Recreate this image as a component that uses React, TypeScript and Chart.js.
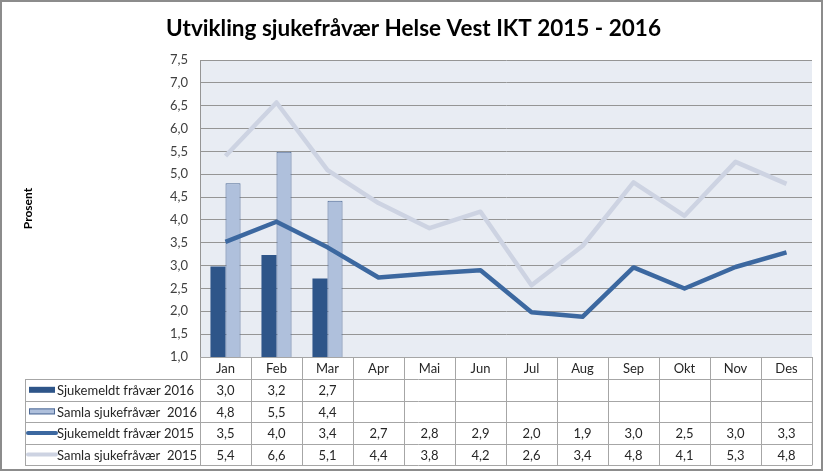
import React, { useEffect, useRef } from "react";
import { Chart, registerables } from "chart.js";

Chart.register(...registerables);

const TITLE = "Utvikling sjukefråvær Helse Vest IKT 2015 - 2016";
const Y_TITLE = "Prosent";
const months = ["Jan", "Feb", "Mar", "Apr", "Mai", "Jun", "Jul", "Aug", "Sep", "Okt", "Nov", "Des"];
const seriesNames = [
  "Sjukemeldt fråvær 2016",
  "Samla sjukefråvær  2016",
  "Sjukemeldt fråvær 2015",
  "Samla sjukefråvær  2015",
];
const sjukemeldt2016: (number | null)[] = [2.98, 3.23, 2.72, null, null, null, null, null, null, null, null, null];
const samla2016: (number | null)[] = [4.8, 5.49, 4.42, null, null, null, null, null, null, null, null, null];
const sjukemeldt2015: number[] = [3.52, 3.96, 3.4, 2.74, 2.83, 2.9, 1.98, 1.88, 2.96, 2.5, 2.97, 3.29];
const samla2015: number[] = [5.4, 6.57, 5.09, 4.37, 3.82, 4.18, 2.57, 3.43, 4.82, 4.09, 5.27, 4.79];
const yMin = 1.0;
const yMax = 7.5;
const yStep = 0.5;

const FONT = "Lato, 'Open Sans', sans-serif";
const COLORS = {
  barDark: "#2E5589",
  barLight: "#AFC0DC",
  barLightBorder: "#4E6A96",
  lineDark: "#3C68A0",
  lineLight: "#CDD3E2",
  plotBg: "#E8ECF3",
  grid: "#959595",
  table: "#A6A6A6",
  text: "#262626",
};

const fmt = (v: number | null) => (v == null ? "" : v.toFixed(1).replace(".", ","));

const tablePlugin = {
  id: "tablePlugin",
  beforeDraw(chart: any) {
    const { ctx, chartArea, width, height } = chart;
    ctx.save();
    ctx.fillStyle = "#ffffff";
    ctx.fillRect(0, 0, width, height);
    ctx.fillStyle = COLORS.plotBg;
    ctx.fillRect(chartArea.left, chartArea.top, chartArea.right - chartArea.left, chartArea.bottom - chartArea.top);
    ctx.restore();
  },
  afterDraw(chart: any) {
    const { ctx, chartArea } = chart;
    const xs = chart.scales.x;
    ctx.save();

    // title
    ctx.fillStyle = "#000";
    ctx.font = `bold 22.5px ${FONT}`;
    ctx.textAlign = "center";
    ctx.textBaseline = "alphabetic";
    ctx.fillText(TITLE, 413.5, 36);

    // y title
    ctx.save();
    ctx.translate(28, (chartArea.top + chartArea.bottom) / 2);
    ctx.rotate(-Math.PI / 2);
    ctx.font = `bold 12px ${FONT}`;
    ctx.textBaseline = "middle";
    ctx.fillText(Y_TITLE, 0, 0);
    ctx.restore();

    // table
    const colW = xs.getPixelForValue(1) - xs.getPixelForValue(0);
    const left = chartArea.left;
    const right = xs.getPixelForValue(months.length - 1) + colW / 2;
    const top = chartArea.bottom;
    const monthRowBottom = top + 22;
    const rowH = 21.6;
    const legendLeft = 25;
    const tableBottom = monthRowBottom + rowH * 4;

    ctx.strokeStyle = COLORS.table;
    ctx.lineWidth = 1;
    ctx.beginPath();
    ctx.moveTo(left, top + 0.5);
    ctx.lineTo(right, top + 0.5);
    for (let r = 0; r <= 4; r++) {
      const y = Math.round(monthRowBottom + r * rowH) + 0.5;
      ctx.moveTo(legendLeft, y);
      ctx.lineTo(right, y);
    }
    ctx.moveTo(legendLeft + 0.5, monthRowBottom);
    ctx.lineTo(legendLeft + 0.5, tableBottom);
    for (let i = 0; i <= months.length; i++) {
      const x = Math.round(xs.getPixelForValue(0) - colW / 2 + i * colW) + 0.5;
      ctx.moveTo(x, top);
      ctx.lineTo(x, tableBottom);
    }
    ctx.stroke();

    ctx.fillStyle = COLORS.text;
    ctx.font = `13px ${FONT}`;
    ctx.textAlign = "center";
    ctx.textBaseline = "middle";
    months.forEach((m, i) => {
      ctx.fillText(m, xs.getPixelForValue(i), (top + monthRowBottom) / 2 + 1);
    });

    const rows = [sjukemeldt2016, samla2016, sjukemeldt2015, samla2015];
    rows.forEach((vals, r) => {
      const cy = monthRowBottom + r * rowH + rowH / 2 + 1;
      ctx.textAlign = "center";
      ctx.fillStyle = COLORS.text;
      vals.forEach((v, i) => {
        ctx.fillText(fmt(v), xs.getPixelForValue(i), cy);
      });
      // key
      const ky = cy - 1;
      if (r === 0) {
        ctx.fillStyle = COLORS.barDark;
        ctx.fillRect(29, ky - 3, 26, 6);
      } else if (r === 1) {
        ctx.fillStyle = COLORS.barLight;
        ctx.fillRect(29, ky - 3, 26, 6);
        ctx.strokeStyle = COLORS.barLightBorder;
        ctx.strokeRect(29.5, ky - 2.5, 25, 5);
      } else {
        ctx.strokeStyle = r === 2 ? COLORS.lineDark : COLORS.lineLight;
        ctx.lineWidth = 4;
        ctx.lineCap = "round";
        ctx.beginPath();
        ctx.moveTo(28, ky);
        ctx.lineTo(56, ky);
        ctx.stroke();
        ctx.lineWidth = 1;
        ctx.lineCap = "butt";
      }
      ctx.fillStyle = COLORS.text;
      ctx.textAlign = "left";
      ctx.fillText(seriesNames[r], 57, cy);
    });

    // outer frame
    ctx.strokeStyle = "#8C8C8C";
    ctx.lineWidth = 2;
    ctx.strokeRect(1, 1, 821, 469);
    ctx.restore();
  },
};

export default function App() {
  const ref = useRef<HTMLCanvasElement | null>(null);
  useEffect(() => {
    document.body.style.margin = "0";
    const canvas = ref.current;
    if (!canvas) return;
    const chart = new Chart(canvas, {
      type: "bar",
      data: {
        labels: months,
        datasets: [
          {
            type: "bar",
            label: seriesNames[0],
            data: sjukemeldt2016,
            backgroundColor: COLORS.barDark,
            borderWidth: 0,
            barPercentage: 1,
            categoryPercentage: 0.59,
            order: 2,
          },
          {
            type: "bar",
            label: seriesNames[1],
            data: samla2016,
            backgroundColor: COLORS.barLight,
            borderColor: COLORS.barLightBorder,
            borderWidth: 1,
            barPercentage: 1,
            categoryPercentage: 0.59,
            order: 2,
          },
          {
            type: "line",
            label: seriesNames[2],
            data: sjukemeldt2015,
            borderColor: COLORS.lineDark,
            backgroundColor: COLORS.lineDark,
            borderWidth: 4.5,
            pointRadius: 0,
            borderJoinStyle: "round",
            tension: 0,
            order: 0,
          },
          {
            type: "line",
            label: seriesNames[3],
            data: samla2015,
            borderColor: COLORS.lineLight,
            backgroundColor: COLORS.lineLight,
            borderWidth: 4.5,
            pointRadius: 0,
            borderJoinStyle: "round",
            tension: 0,
            order: 1,
          },
        ] as any,
      },
      options: {
        animation: false,
        responsive: false,
        layout: { padding: { top: 60, bottom: 116, left: 0, right: 15 } },
        plugins: { legend: { display: false }, tooltip: { enabled: false }, title: { display: false } },
        scales: {
          x: { display: false, offset: true },
          y: {
            min: yMin,
            max: yMax,
            ticks: {
              stepSize: yStep,
              padding: 12,
              color: "#404040",
              font: { family: FONT, size: 13 },
              callback: (v: any) => Number(v).toFixed(1).replace(".", ","),
            },
            grid: { color: COLORS.grid, drawTicks: false },
            border: { display: true, color: COLORS.grid },
            afterFit: (s: any) => {
              s.width = 200;
            },
          },
        },
      } as any,
      plugins: [tablePlugin],
    });
    return () => chart.destroy();
  }, []);
  return <canvas ref={ref} width={827} height={473} style={{ display: "block" }} />;
}
